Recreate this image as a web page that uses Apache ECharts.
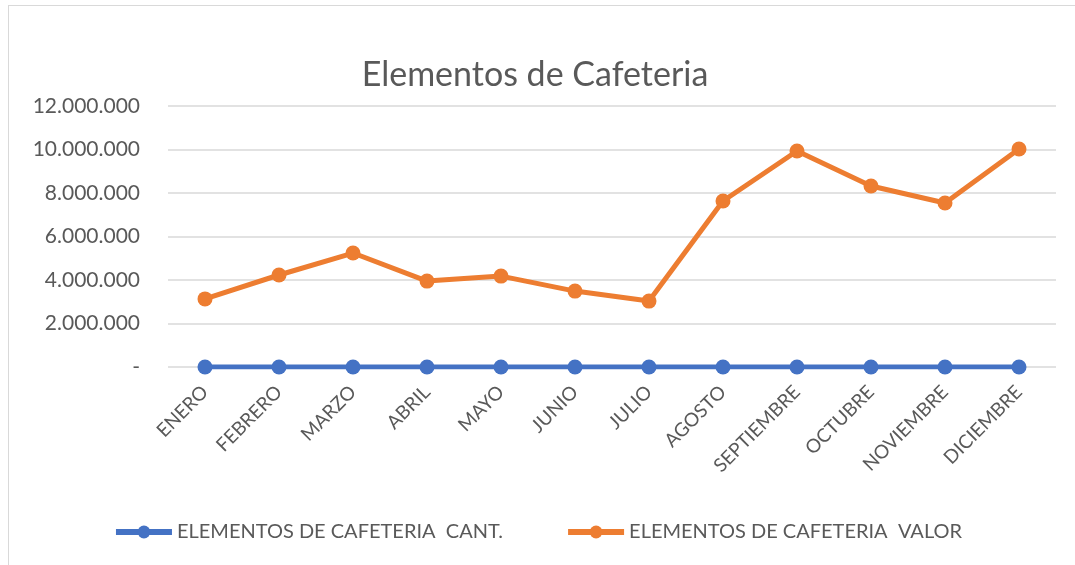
<!DOCTYPE html>
<html>
<head>
<meta charset="utf-8">
<script src="https://cdn.jsdelivr.net/npm/echarts@6/dist/echarts.min.js"></script>
<style>
  html, body { margin: 0; padding: 0; background: #fff; }
  #frame { position: absolute; left: 8px; top: 5px; width: 1080px; height: 570px; border: 1px solid #d9d9d9; }
  #chart { width: 1075px; height: 565px; }
</style>
</head>
<body>
<div id="frame"></div>
<div id="chart" style="position:absolute;left:0;top:0;"></div>
<script>
// datos
const months = ['ENERO', 'FEBRERO', 'MARZO', 'ABRIL', 'MAYO', 'JUNIO', 'JULIO',
    'AGOSTO', 'SEPTIEMBRE', 'OCTUBRE', 'NOVIEMBRE', 'DICIEMBRE'];
const cantidad = [20, 25, 30, 22, 24, 20, 18, 40, 50, 45, 42, 55];
const valor = [3130000, 4230000, 5240000, 3950000, 4180000, 3490000, 3030000,
    7630000, 9930000, 8320000, 7540000, 10020000];

const textColor = '#595959';
const fontName = 'Lato, "Open Sans", sans-serif';

function formatMiles(v) {
    if (v === 0) return '-';
    return String(v).replace(/\B(?=(\d{3})+(?!\d))/g, '.');
}

function show_chart(chart_id) {
    let option = {
        animation: false,
        title: {
            text: 'Elementos de Cafeteria',
            left: 530,
            textAlign: 'center',
            top: 53,
            textStyle: { color: textColor, fontSize: 34, fontWeight: 'normal', fontFamily: fontName }
        },
        grid: { left: 168, right: 19, top: 106, bottom: 198 },
        legend: {
            bottom: 18,
            left: 'center',
            itemGap: 62,
            itemWidth: 56,
            itemHeight: 16,
            lineStyle: { width: 6 },
            textStyle: { color: textColor, fontSize: 20, fontFamily: fontName },
            data: ['ELEMENTOS DE CAFETERIA  CANT.', 'ELEMENTOS DE CAFETERIA  VALOR']
        },
        xAxis: {
            type: 'category',
            data: months,
            axisLine: { show: false },
            axisTick: { show: false },
            axisLabel: { rotate: 45, color: textColor, fontSize: 19, fontFamily: fontName, margin: 22, interval: 0 }
        },
        yAxis: {
            type: 'value',
            min: 0,
            max: 12000000,
            interval: 2000000,
            axisLine: { show: false },
            axisTick: { show: false },
            axisLabel: { color: textColor, fontSize: 21, fontFamily: fontName, margin: 28, formatter: formatMiles },
            splitLine: { lineStyle: { color: '#d9d9d9', width: 1.5 } }
        },
        series: [
            {
                name: 'ELEMENTOS DE CAFETERIA  CANT.',
                type: 'line',
                data: cantidad,
                symbol: 'circle',
                symbolSize: 15,
                color: '#4472c4',
                lineStyle: { width: 5 }
            },
            {
                name: 'ELEMENTOS DE CAFETERIA  VALOR',
                type: 'line',
                data: valor,
                symbol: 'circle',
                symbolSize: 15,
                color: '#ed7d31',
                lineStyle: { width: 5 }
            }
        ]
    };
    let chart = echarts.init(document.getElementById(chart_id));
    chart.setOption(option);
    return chart;
}

show_chart('chart');
</script>
</body>
</html>
